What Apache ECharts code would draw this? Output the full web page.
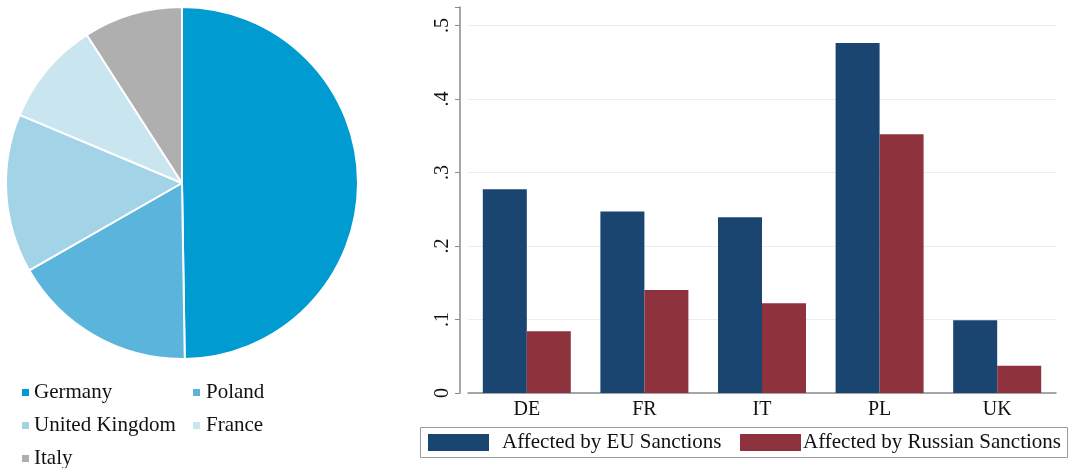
<!DOCTYPE html>
<html>
<head>
<meta charset="utf-8">
<script src="https://cdn.jsdelivr.net/npm/echarts@6/dist/echarts.min.js"></script>
<style>html,body{margin:0;padding:0;background:#fff}#c{width:1076px;height:468px}</style>
</head>
<body>
<div id="c"></div>
<script>
const pieNames = ['Germany', 'Poland', 'United Kingdom', 'France', 'Italy'];
const pieValues = [49.8, 17.0, 14.6, 9.6, 9.1];
const pieColors = ['#009CD1', '#5AB4DC', '#A2D3E7', '#C8E5F0', '#AFAFAF'];
const categories = ['DE', 'FR', 'IT', 'PL', 'UK'];
const euSanctions = [0.277, 0.247, 0.239, 0.476, 0.099];
const ruSanctions = [0.084, 0.140, 0.122, 0.352, 0.037];
const yTicks = [0, 0.1, 0.2, 0.3, 0.4, 0.5];
const barSeriesNames = ['Affected by EU Sanctions', 'Affected by Russian Sanctions'];

const serif = 'Liberation Serif';
const chart = echarts.init(document.getElementById('c'));
chart.setOption({
  animation: false,
  textStyle: { fontFamily: serif },
  grid: { left: 468, right: 20, top: 7, bottom: 75, containLabel: false },
  graphic: [{
    type: 'rect', shape: { x: 420.5, y: 427.5, width: 647, height: 30 },
    style: { fill: 'none', stroke: '#9a9a9a', lineWidth: 1 }
  }],
  legend: [
    {
      data: [pieNames[0], pieNames[2], pieNames[4]],
      orient: 'vertical', left: 15, top: 377, height: 100, itemGap: 12,
      icon: 'rect', itemWidth: 9, itemHeight: 9,
      textStyle: { fontFamily: serif, fontSize: 21, color: '#111', padding: [0, 0, 0, -1] }
    },
    {
      data: [pieNames[1], pieNames[3]],
      orient: 'vertical', left: 186, top: 377, height: 100, itemGap: 12,
      icon: 'rect', itemWidth: 9, itemHeight: 9,
      textStyle: { fontFamily: serif, fontSize: 21, color: '#111', padding: [0, 0, 0, 0] }
    },
    {
      data: [barSeriesNames[0]],
      left: 428, top: 432, padding: 0,
      icon: 'rect', itemWidth: 61, itemHeight: 17,
      textStyle: { fontFamily: serif, fontSize: 21, color: '#111', padding: [0, 0, 0, 8] }
    },
    {
      data: [barSeriesNames[1]],
      left: 740, top: 432, padding: 0,
      icon: 'rect', itemWidth: 61, itemHeight: 17,
      textStyle: { fontFamily: serif, fontSize: 21, color: '#111', padding: [0, 0, 0, -3] }
    }
  ],
  xAxis: {
    type: 'category', data: categories,
    axisLine: { lineStyle: { color: '#8a8a8a', width: 1.5 } },
    axisTick: { show: false },
    axisLabel: { fontFamily: serif, fontSize: 20, color: '#111', margin: 7 }
  },
  yAxis: {
    type: 'value', min: 0, max: 0.525, interval: 0.1, offset: 8,
    axisLine: { show: true, lineStyle: { color: '#8a8a8a', width: 1.5 } },
    axisTick: { show: true, length: 5, lineStyle: { color: '#8a8a8a' } },
    splitLine: { show: true, showMaxLine: false, lineStyle: { color: '#e6eef1', width: 1 } },
    axisLabel: {
      rotate: 90, fontFamily: serif, fontSize: 20, color: '#111', margin: 7,
      customValues: yTicks,
      formatter: v => v === 0 ? '0' : String(Math.round(v * 10) / 10).replace('0.', '.')
    }
  },
  series: [
    {
      type: 'pie', name: 'share', center: [182, 183], radius: 176,
      startAngle: 90, clockwise: true,
      label: { show: false }, labelLine: { show: false },
      itemStyle: { borderColor: '#fff', borderWidth: 2 },
      data: pieNames.map((n, i) => ({ name: n, value: pieValues[i], itemStyle: { color: pieColors[i] } }))
    },
    {
      type: 'bar', name: barSeriesNames[0], data: euSanctions,
      barWidth: 44, barGap: '0%', itemStyle: { color: '#1A4570' }
    },
    {
      type: 'bar', name: barSeriesNames[1], data: ruSanctions,
      barWidth: 44, barGap: '0%', itemStyle: { color: '#8E333D' }
    }
  ]
});
</script>
</body>
</html>
